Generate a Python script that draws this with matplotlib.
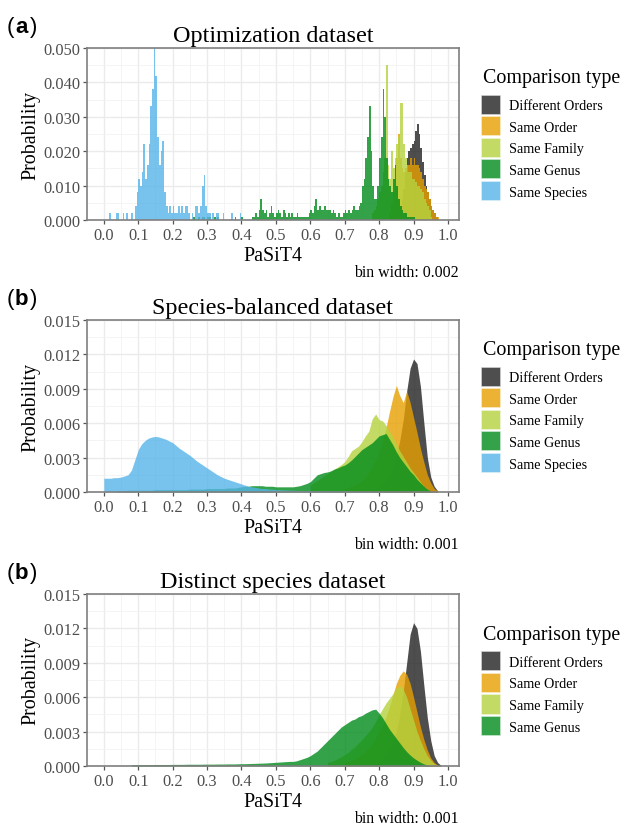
import numpy as np
import matplotlib.pyplot as plt
from matplotlib.patches import Patch
from matplotlib.ticker import MultipleLocator, FormatStrFormatter

plt.rcParams['font.family'] = ['Liberation Serif', 'DejaVu Serif']

types = ["Different Orders", "Same Order", "Same Family", "Same Genus", "Same Species"]
colors = ["#222222", "#E69F00", "#B5D33F", "#008B1A", "#56B4E9"]

# heights are in units of 0.001 (probability), each list starts at its x0
# (a) Optimization dataset, read at 0.005 steps
opt_step = 0.005
opt_diff_x0 = 0.860
opt_diff = [4, 6, 9, 14, 18, 20, 21, 22, 23, 26, 28, 25, 21, 17, 13, 10, 8, 6, 4, 3, 2, 1]
opt_order_x0 = 0.830
opt_order = [2, 5, 8, 12, 18, 25, 18, 15, 14, 15, 14, 16, 18, 16, 18, 16, 16, 15, 14, 12,
             10, 9, 8, 6, 4, 3, 2, 1, 1]
opt_family_x0 = 0.780
opt_family = [2, 3, 4, 6, 8, 10, 14, 18, 45, 16, 12, 20, 15, 18, 22, 24, 34, 34, 22, 18,
              16, 14, 14, 12, 12, 11, 10, 10, 9, 8, 6, 5, 4, 3, 1]
opt_genus_x0 = 0.260
opt_genus = [1, 0, 0, 1, 0, 1, 1, 0, 1, 1, 0, 0, 1, 0, 1, 0, 0, 0, 0, 0, 0, 0, 0, 0, 1,
             0, 0, 0, 1, 0, 0, 0, 0, 0, 1, 1, 2,
             1, 3, 6, 3, 2, 3, 1, 2, 4, 2, 1, 2, 3, 2, 1, 3, 2, 1, 2, 1, 2, 1, 1, 2,
             1, 1, 1, 1, 1, 1, 2, 3, 2, 4, 6, 3, 4, 3, 3, 4, 3, 3, 3, 2, 3, 2, 1, 2,
             1, 1, 2, 3, 2, 3, 2, 3, 4, 3, 3, 4, 5, 10, 12, 18, 24, 33, 20, 10, 6, 6,
             10, 18, 24, 38, 30, 18, 12, 10, 8, 12, 16, 10, 6, 4, 3, 2, 2, 1, 1, 1, 1, 1]
opt_species_x0 = 0.010
opt_species = [0, 2, 0, 0, 0, 2, 2, 0, 0, 2, 0, 2, 0, 0, 2, 0, 4, 8, 12, 10, 14, 22, 12,
               16, 22, 33, 38, 50, 42, 24, 16, 20, 23, 8, 4, 2, 4, 2, 4, 2, 2, 4, 2, 4,
               2, 4, 4, 2, 0, 2, 0, 4, 4, 2, 4, 10, 13, 4, 2, 2, 0, 2, 0, 2, 2, 0, 0, 2,
               0, 0, 0, 0, 2, 0, 0, 0, 0, 2]

# (b) Species-balanced dataset, read at 0.01 steps
bal_step = 0.01
bal_diff_x0 = 0.78
bal_diff = [0.2, 0.3, 0.5, 0.7, 1.0, 1.5, 2.2, 3.2, 4.5, 6.3, 8.8, 10.8, 11.6, 11.2, 9.2,
            6.0, 3.0, 1.3, 0.5, 0.1]
bal_order_x0 = 0.70
bal_order = [0.3, 0.4, 0.5, 0.6, 0.8, 1.0, 1.3, 1.7, 2.2, 2.8, 3.5, 4.5, 5.6, 7.0, 8.3,
             9.3, 8.4, 7.8, 8.8, 7.8, 6.5, 5.2, 3.8, 2.6, 1.5, 0.8, 0.3, 0.1]
bal_family_x0 = 0.60
bal_family = [0.6, 0.8, 1.0, 1.2, 1.4, 1.6, 1.8, 2.0, 2.2, 2.4, 2.65, 3.1, 3.6, 3.8, 4.0,
              4.4, 4.9, 5.3, 6.4, 6.8, 6.3, 6.2, 5.8, 5.3, 4.8, 4.2, 3.6, 3.1, 2.6, 2.1,
              1.7, 1.3, 0.9, 0.5, 0.25, 0.1]
bal_genus_x0 = 0.04
bal_genus = [0.1, 0.1, 0.1, 0.15, 0.15, 0.15, 0.15, 0.15, 0.15, 0.15, 0.15, 0.2, 0.2, 0.2,
             0.2, 0.2, 0.2, 0.2, 0.2, 0.2, 0.2, 0.25, 0.25, 0.25, 0.25, 0.25, 0.3, 0.3,
             0.3, 0.3, 0.3, 0.3, 0.35, 0.35, 0.35, 0.4,
             0.45, 0.5, 0.5, 0.55, 0.55, 0.55, 0.55, 0.5, 0.5, 0.5, 0.45, 0.45, 0.45,
             0.45, 0.45, 0.45, 0.5, 0.55, 0.65, 0.75,
             0.9, 1.2, 1.5, 1.6, 1.7, 1.75, 1.85, 2.0, 2.1, 2.25, 2.35, 2.55, 2.8, 3.1,
             3.4, 3.7, 3.9, 4.1, 4.3, 4.6, 4.9, 5.0, 5.1, 4.6, 4.1, 3.5, 3.0, 2.6, 2.2,
             1.8, 1.5, 1.1, 0.8, 0.5, 0.25, 0.1]
bal_species_x0 = 0.0
bal_species = [1.2, 1.2, 1.2, 1.25, 1.25, 1.3, 1.4, 1.5, 1.9, 2.8, 3.7, 4.2, 4.5, 4.7, 4.8,
               4.85, 4.8, 4.7, 4.6, 4.45, 4.3, 4.05, 3.8, 3.6, 3.4, 3.2, 2.95, 2.7, 2.5,
               2.3, 2.1, 1.9, 1.7, 1.5, 1.35, 1.2, 1.1, 1.0, 0.9, 0.8, 0.7, 0.6, 0.5,
               0.45, 0.4, 0.35, 0.3, 0.3, 0.25, 0.25, 0.2, 0.2, 0.18, 0.17, 0.16, 0.15,
               0.14, 0.13, 0.12, 0.12, 0.11, 0.1, 0.1, 0.1, 0.09, 0.09, 0.08, 0.08, 0.08,
               0.07, 0.07, 0.07, 0.06, 0.06, 0.06, 0.05, 0.05, 0.05, 0.04, 0.04, 0.04,
               0.03, 0.03, 0.03, 0.02, 0.02, 0.02, 0.01, 0.01, 0.01]

# (c) Distinct species dataset, read at 0.01 steps
dist_step = 0.01
dist_diff_x0 = 0.80
dist_diff = [0.5, 0.8, 1.1, 1.5, 2.2, 3.0, 4.5, 6.5, 9.0, 11.5, 12.5, 12.0, 10.0, 7.0, 4.2,
             2.2, 0.9, 0.3, 0.05]
dist_order_x0 = 0.70
dist_order = [0.3, 0.4, 0.5, 0.65, 0.8, 1.0, 1.3, 1.6, 2.0, 2.5, 3.0, 3.6, 4.3, 5.2, 6.2,
              7.2, 7.9, 8.3, 8.0, 7.2, 6.0, 4.7, 3.4, 2.3, 1.4, 0.7, 0.3, 0.1]
dist_family_x0 = 0.65
dist_family = [0.3, 0.4, 0.5, 0.65, 0.8, 1.0, 1.2, 1.45, 1.7, 2.0, 2.3, 2.65, 3.0, 3.4,
               3.9, 4.5, 5.0, 5.5, 5.9, 6.3, 6.8, 7.0, 6.7, 6.0, 5.0, 4.0, 3.0, 2.2, 1.5,
               0.9, 0.5, 0.2, 0.05]
dist_genus_x0 = 0.08
dist_genus = [0.1, 0.12, 0.12, 0.12, 0.12, 0.12, 0.12, 0.13, 0.13, 0.13, 0.13, 0.13, 0.14,
              0.14, 0.14, 0.14, 0.15, 0.15, 0.15, 0.15, 0.15, 0.16, 0.16, 0.16, 0.16,
              0.17, 0.17, 0.17, 0.18, 0.18, 0.18, 0.19,
              0.2, 0.2, 0.21, 0.22, 0.23, 0.24, 0.25, 0.26, 0.28, 0.3, 0.32, 0.34, 0.36,
              0.38, 0.4,
              0.4, 0.45, 0.55, 0.65, 0.75, 0.9, 1.1, 1.3, 1.6, 1.9, 2.2, 2.5, 2.8, 3.1,
              3.4, 3.6, 3.8, 4.0, 4.1, 4.3, 4.4, 4.6, 4.75, 4.9, 4.95, 4.6, 4.2, 3.7,
              3.2, 2.8, 2.4, 2.0, 1.6, 1.25, 0.95, 0.7, 0.5, 0.32, 0.18, 0.08, 0.03]

panels = [
    ("a", "Optimization dataset", "bin width: 0.002", opt_step, 0.05, 0.01, True,
     [(opt_diff_x0, opt_diff), (opt_order_x0, opt_order), (opt_family_x0, opt_family),
      (opt_genus_x0, opt_genus), (opt_species_x0, opt_species)], 0.7331),
    ("b", "Species-balanced dataset", "bin width: 0.001", bal_step, 0.015, 0.003, False,
     [(bal_diff_x0, bal_diff), (bal_order_x0, bal_order), (bal_family_x0, bal_family),
      (bal_genus_x0, bal_genus), (bal_species_x0, bal_species)], 0.4046),
    ("b", "Distinct species dataset", "bin width: 0.001", dist_step, 0.015, 0.003, False,
     [(dist_diff_x0, dist_diff), (dist_order_x0, dist_order), (dist_family_x0, dist_family),
      (dist_genus_x0, dist_genus)], 0.0737),
]

W, H = 620, 828
fig = plt.figure(figsize=(6.2, 8.28), dpi=100)
fig.patch.set_facecolor("white")

for tag, title, binw, step, ymax, ystep, spiky, series, bottom in panels:
    ax = fig.add_axes([0.1403, bottom, 0.6, 0.2077])
    for (x0, h), col in zip(series, colors):
        h = np.array(h) * 1e-3
        if spiky:
            edges = x0 + step * np.arange(len(h) + 1)
            ax.stairs(h, edges, fill=True, color=col, alpha=0.8, linewidth=0)
        else:
            x = x0 + step * np.arange(len(h))
            ax.fill_between(x, 0, h, color=col, alpha=0.8, linewidth=0)

    ax.set_xlim(-0.049, 1.032)
    ax.set_ylim(0, ymax)
    ax.xaxis.set_major_locator(MultipleLocator(0.1))
    ax.xaxis.set_minor_locator(MultipleLocator(0.05))
    ax.yaxis.set_major_locator(MultipleLocator(ystep))
    ax.yaxis.set_minor_locator(MultipleLocator(ystep / 2))
    ax.xaxis.set_major_formatter(FormatStrFormatter("%.1f"))
    ax.yaxis.set_major_formatter(FormatStrFormatter("%.3f"))
    ax.grid(which="major", color="#EBEBEB", linewidth=1.0, zorder=0)
    ax.grid(which="minor", color="#F2F2F2", linewidth=0.6, zorder=0)
    ax.set_axisbelow(True)
    for s in ax.spines.values():
        s.set_color("#7F7F7F")
        s.set_linewidth(1.2)
    ax.tick_params(which="major", length=3, width=0.9, color="#555555",
                   labelsize=11.8, labelcolor="#4D4D4D", pad=2)
    ax.tick_params(which="minor", length=0)
    ax.set_xlabel("PaSiT4", fontsize=14.4, labelpad=2)
    ax.set_ylabel("Probability", fontsize=14.4, labelpad=2)
    ax.set_title(title, fontsize=17.4, pad=5)
    ax.annotate(binw, xy=(1, 0), xycoords="axes fraction", xytext=(0, -37.5),
                textcoords="offset points", ha="right", va="center", fontsize=11.4)

    pos = ax.get_position()
    # panel tag: thin parentheses, bold letter
    ty = pos.y1 + 22 / H
    sans = ["Liberation Sans", "DejaVu Sans"]
    fig.text(7 / W, ty, "(", fontsize=16, family=sans, va="center")
    fig.text(15 / W, ty, tag, fontsize=16, fontweight="bold", family=sans, va="center")
    fig.text(29.5 / W, ty, ")", fontsize=16, family=sans, va="center")

    # legend, centred on the panel like ggplot
    n = len(series)
    yc = (1 - pos.y0 - pos.height / 2) * H
    keys_top = yc - (n * 21.6 - 29) / 2
    fig.text(483 / W, 1 - (keys_top - 17) / H, "Comparison type", fontsize=14.4,
             va="center", ha="left")
    handles = [Patch(facecolor=c, alpha=0.8, edgecolor="white", linewidth=1.2)
               for c in colors[:n]]
    ax.legend(handles, types[:n], loc="upper left",
              bbox_to_anchor=(481 / W, 1 - keys_top / H),
              bbox_transform=fig.transFigure, frameon=False, fontsize=10.2,
              handlelength=1.42, handleheight=1.8, handletextpad=0.55,
              labelspacing=0.11, borderpad=0, borderaxespad=0)

fig.savefig("out.png", dpi=100)
